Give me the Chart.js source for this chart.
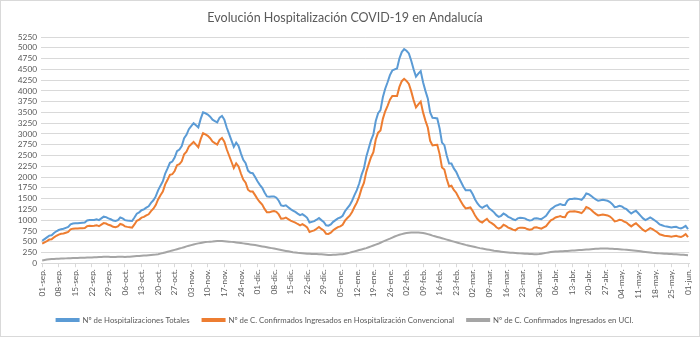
<!DOCTYPE html>
<html><head><meta charset="utf-8">
<script src="https://cdn.jsdelivr.net/npm/chart.js@4/dist/chart.umd.min.js"></script>
<style>html,body{margin:0;padding:0;background:#fff}#wrap{position:relative;width:700px;height:337px}</style>
</head><body><div id="wrap"><canvas id="c" width="700" height="337"></canvas></div>
<script>
const tickLabels = ['01-sep.','08-sep.','15-sep.','22-sep.','29-sep.','06-oct.','13-oct.','20-oct.','27-oct.','03-nov.','10-nov.','17-nov.','24-nov.','01-dic.','08-dic.','15-dic.','22-dic.','29-dic.','05-ene.','12-ene.','19-ene.','26-ene.','02-feb.','09-feb.','16-feb.','23-feb.','02-mar.','09-mar.','16-mar.','23-mar.','30-mar.','06-abr.','13-abr.','20-abr.','27-abr.','04-may.','11-may.','18-may.','25-may.','01-jun.'];
const monthNames = ['sep.','oct.','nov.','dic.','ene.','feb.','mar.','abr.','may.','jun.'];
const monthDays = [30,31,30,31,31,28,31,30,31,1];
const seriesNames = ['Nº de Hospitalizaciones Totales','Nº de C. Confirmados Ingresados en Hospitalización Convencional','Nº de C. Confirmados Ingresados en UCI.'];

const totalHosp = [520,560,600,640,650,700,740,770,790,800,820,840,900,920,925,930,935,940,945,990,1000,1000,1005,1020,1000,1040,1080,1070,1040,1020,990,980,1000,1060,1040,1000,990,985,980,1060,1150,1180,1230,1250,1290,1320,1400,1460,1550,1690,1800,1900,2080,2200,2330,2360,2450,2600,2640,2720,2900,2980,3110,3180,3250,3200,3150,3350,3500,3480,3450,3400,3330,3300,3270,3380,3420,3330,3150,3000,2850,2700,2800,2720,2550,2400,2320,2150,2100,2090,2000,1900,1820,1750,1640,1550,1540,1550,1550,1520,1450,1340,1330,1345,1300,1255,1220,1190,1150,1115,1138,1100,1053,944,960,975,1010,1050,1000,960,880,870,900,960,1000,1040,1060,1100,1207,1280,1347,1450,1580,1695,1850,2050,2200,2469,2663,2850,2988,3300,3480,3553,3850,4050,4200,4365,4474,4500,4520,4752,4900,4969,4930,4868,4700,4500,4330,4400,4458,4200,4000,3824,3500,3375,3370,3359,3127,2800,2740,2500,2314,2314,2200,2121,2000,1889,1780,1695,1695,1695,1600,1480,1386,1320,1285,1320,1347,1270,1230,1180,1115,1076,1100,1153,1120,1076,1050,1020,998,1040,1053,1050,1040,1010,990,1000,1040,1045,1030,1022,1060,1100,1180,1254,1290,1332,1350,1370,1350,1350,1450,1490,1490,1500,1495,1487,1470,1530,1619,1600,1564,1520,1480,1448,1460,1471,1460,1448,1420,1370,1300,1310,1330,1320,1280,1254,1200,1154,1190,1216,1160,1100,1040,999,1030,1061,1030,990,950,900,880,860,852,840,829,838,844,820,805,830,867,790];

const convHosp = [455,485,515,548,553,600,637,664,682,690,708,726,784,802,805,808,811,814,817,860,868,866,869,882,858,894,930,920,892,874,845,834,852,910,892,855,843,835,825,900,985,1012,1058,1074,1110,1135,1210,1265,1350,1480,1578,1665,1830,1935,2050,2065,2140,2275,2300,2365,2528,2590,2705,2760,2815,2752,2690,2880,3020,2990,2955,2900,2825,2788,2754,2862,2905,2820,2645,2500,2355,2210,2318,2245,2082,1940,1868,1706,1664,1662,1580,1490,1420,1360,1260,1180,1180,1200,1210,1190,1132,1034,1035,1060,1025,990,965,942,910,880,908,874,831,726,745,762,799,840,795,760,685,680,708,765,802,838,854,890,987,1048,1102,1190,1305,1405,1545,1730,1865,2119,2293,2460,2578,2870,3030,3078,3350,3525,3652,3795,3879,3880,3880,4092,4225,4279,4230,4160,3988,3785,3615,3688,3750,3500,3310,3149,2840,2735,2745,2749,2532,2220,2175,1952,1782,1799,1700,1636,1530,1434,1340,1270,1283,1295,1212,1105,1024,970,945,990,1027,960,930,890,833,801,832,891,864,826,805,780,762,808,825,825,818,792,775,788,830,835,815,800,830,860,930,996,1025,1062,1076,1092,1070,1068,1165,1202,1198,1204,1195,1183,1162,1218,1303,1280,1239,1190,1146,1110,1120,1129,1118,1108,1082,1035,968,982,1006,1000,965,944,895,854,895,926,877,824,772,739,777,815,790,754,718,672,655,638,633,624,616,628,638,618,607,636,677,605];

const uciHosp = [65,75,85,92,97,100,103,106,108,110,112,114,116,118,120,122,124,126,128,130,132,134,136,138,142,146,150,150,148,146,145,146,148,150,148,145,147,150,155,160,165,168,172,176,180,185,190,195,200,210,222,235,250,265,280,295,310,325,340,355,372,390,405,420,435,448,460,470,480,490,495,500,505,512,516,518,515,510,505,500,495,490,482,475,468,460,452,444,436,428,420,410,400,390,380,370,360,350,340,330,318,306,295,285,275,265,255,248,240,235,230,226,222,218,215,213,211,210,205,200,195,190,192,195,198,202,206,210,220,232,245,260,275,290,305,320,335,350,370,390,410,430,450,475,500,525,548,570,595,620,640,660,675,690,700,708,712,715,715,712,708,700,690,675,660,640,625,610,595,580,565,548,532,515,500,485,470,455,440,425,412,400,388,375,362,350,340,330,320,310,300,290,282,275,268,262,256,250,245,240,236,232,228,225,222,218,215,212,210,210,215,222,230,240,250,258,265,270,274,278,280,282,285,288,292,296,300,304,308,312,316,320,325,330,334,338,340,342,342,340,338,335,332,328,324,320,315,310,305,300,295,290,283,276,268,260,253,246,240,236,232,228,225,222,219,216,213,210,206,202,198,194,190,185];

const categories = [];
monthDays.forEach((n, m) => { for (let d = 1; d <= n; d++) categories.push(String(d).padStart(2, '0') + '-' + monthNames[m]); });

Chart.defaults.font.family = 'Lato, "Open Sans", sans-serif';
Chart.defaults.color = '#595959';

const frame = {
  id: 'frame',
  beforeDraw(c) {
    const ctx = c.ctx; ctx.save();
    ctx.fillStyle = '#fff'; ctx.fillRect(0, 0, c.width, c.height);
    ctx.strokeStyle = '#d9d9d9'; ctx.lineWidth = 1; ctx.strokeRect(0.5, 0.5, c.width - 1, c.height - 1);
    ctx.restore();
  }
};

const mk = (label, data, color) => ({ label, data, borderColor: color, backgroundColor: color, borderWidth: 2, pointRadius: 0, tension: 0 });

new Chart(document.getElementById('c'), {
  type: 'line',
  data: {
    labels: categories,
    datasets: [
      mk(seriesNames[0], totalHosp, '#5B9BD5'),
      mk(seriesNames[1], convHosp, '#ED7D31'),
      mk(seriesNames[2], uciHosp, '#A5A5A5')
    ]
  },
  options: {
    responsive: false, animation: false, devicePixelRatio: 1,
    layout: { padding: { left: 0, right: 10, top: 0, bottom: 3 } },
    plugins: {
      title: { display: true, text: 'Evolución Hospitalización COVID-19 en Andalucía', font: { size: 12.5, weight: 'normal' }, color: '#595959', padding: { top: 10, bottom: 12 } },
      legend: { position: 'bottom', labels: { boxWidth: 22, boxHeight: 2, font: { size: 7.8 }, color: '#595959', padding: 13 } },
      tooltip: { enabled: false }
    },
    scales: {
      x: {
        offset: true,
        grid: { drawOnChartArea: false, drawTicks: true, tickLength: 4, color: (ctx) => (ctx.index % 7 === 0 ? '#d9d9d9' : 'rgba(0,0,0,0)') },
        border: { display: true, color: '#d9d9d9' },
        ticks: { autoSkip: false, maxRotation: 90, minRotation: 90, font: { size: 8.3 }, padding: 2, callback: (v, i) => (i % 7 === 0 ? tickLabels[i / 7] : '') },
        afterFit: (s) => { s.height = 40; }
      },
      y: {
        min: 0, max: 5250,
        ticks: { stepSize: 250, autoSkip: false, font: { size: 8.3 }, padding: 4, callback: (v) => String(v) },
        grid: { color: '#d9d9d9', drawTicks: false },
        border: { display: false },
        afterFit: (s) => { s.width = 41; }
      }
    }
  },
  plugins: [frame]
});
</script></body></html>
